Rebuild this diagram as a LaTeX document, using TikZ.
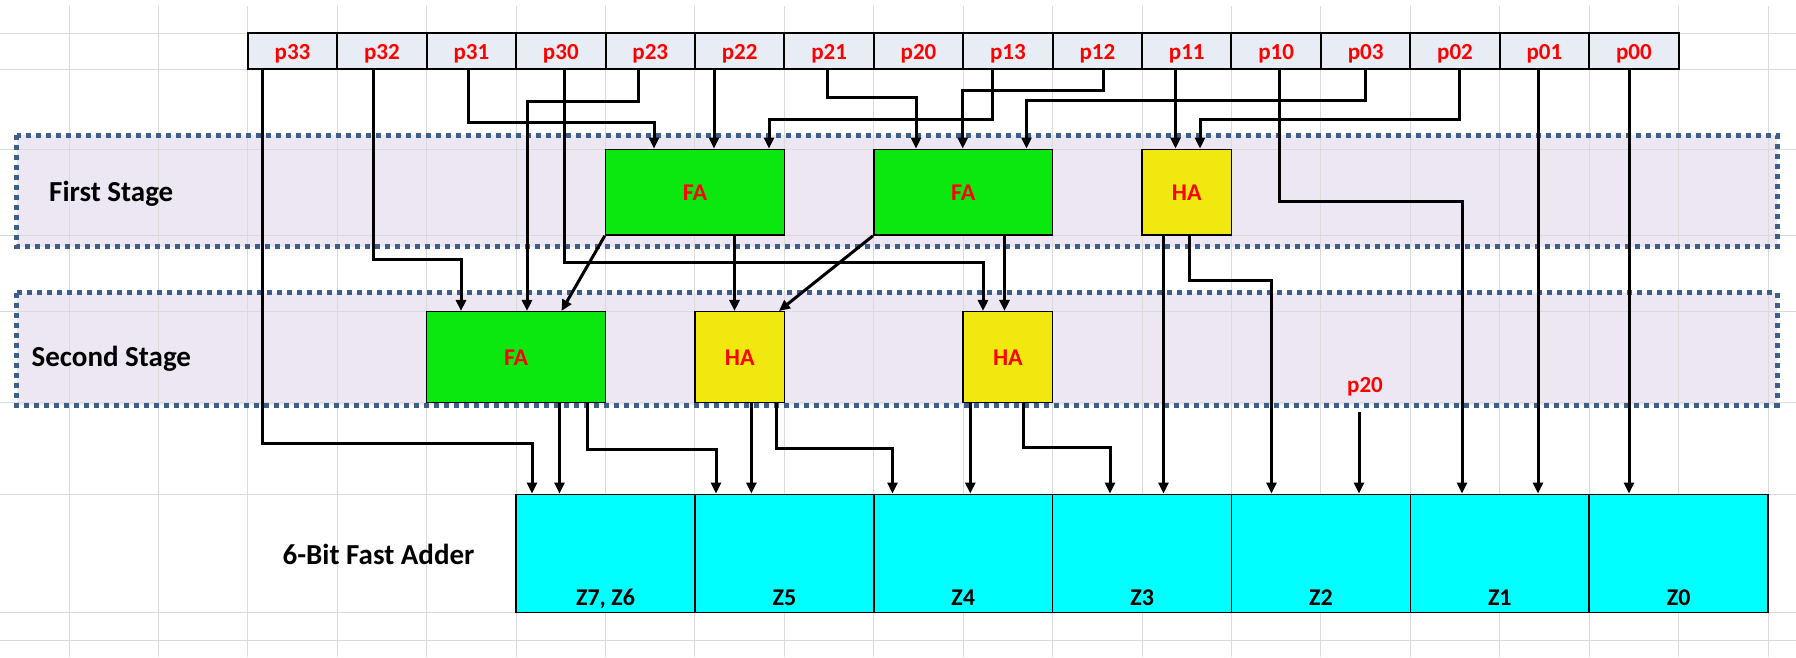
\documentclass[tikz,border=0pt]{standalone}
\usepackage{fontspec}
\setmainfont{Carlito}
\usetikzlibrary{arrows.meta}
\definecolor{gridgray}{HTML}{DADADA}
\definecolor{cellfill}{HTML}{E8ECF4}
\definecolor{stagefill}{HTML}{EDE7F3}
\definecolor{dotcol}{HTML}{3E5F8C}
\definecolor{fagreen}{HTML}{0BE80F}
\definecolor{hayellow}{HTML}{F0E80F}
\definecolor{adcyan}{HTML}{00FFFF}
\definecolor{labred}{HTML}{FF0000}
\begin{document}
\begin{tikzpicture}[x=1pt,y=-1pt,
  gridline/.style={draw=gridgray, line width=1pt},
  stagebox/.style={draw=dotcol, line width=5pt, dash pattern=on 5pt off 5pt},
  wa/.style={line width=3pt, -{Triangle[length=11pt,width=10pt]}},
  pcell/.style={draw=black, line width=2pt, fill=cellfill, minimum width=89.42pt, minimum height=36pt, inner sep=0pt, text height=16.8pt, text depth=0pt, text=labred, font=\fontsize{23}{26}\selectfont\bfseries},
  blk/.style={draw=black, line width=1.5pt, inner sep=0pt, text height=17pt, text depth=0pt, text=labred, font=\fontsize{24}{28}\selectfont\bfseries},
  fabox/.style={blk, fill=fagreen, minimum width=178.8pt},
  habox/.style={blk, fill=hayellow, minimum width=89.4pt},
  row1/.style={minimum height=85.7pt},
  row2/.style={minimum height=91pt},
  zcell/.style={draw=black, line width=1.5pt, fill=adcyan, minimum width=178.84pt, minimum height=118.4pt, inner sep=0pt},
  zlab/.style={inner sep=0pt, anchor=base, font=\fontsize{24}{28}\selectfont\bfseries},
  stagelab/.style={inner sep=0pt, anchor=base west, font=\fontsize{29}{34}\selectfont\bfseries},
  plabel/.style={inner sep=0pt, text=labred, font=\fontsize{23}{26}\selectfont\bfseries}]
\useasboundingbox (0,0) rectangle (1796,657);
\fill[white] (0,0) rectangle (1796,657);
% stage fills
\fill[stagefill] (16.5,135) rectangle (1777,246.7);
\fill[stagefill] (16.5,292.7) rectangle (1777,405);
% spreadsheet grid
\foreach \k in {0,...,19} \draw[gridline] ({69+89.42*\k},6) -- ({69+89.42*\k},657);
\foreach \yy in {33.3,69.3,149.3,235,311.7,402.7,494.3,612.7,640.7} \draw[gridline] (0,\yy) -- (1796,\yy);
% stage borders
\draw[stagebox] (16.5,135) rectangle (1777,246.7);
\draw[stagebox] (16.5,292.7) rectangle (1777,405);
\node[stagelab] (lab1) at (49,201) {First Stage};
\node[stagelab] (lab2) at (31.4,366.5) {Second Stage};
\node[stagelab] (lab3) at (282.4,564) {6-Bit Fast Adder};
% partial products row
\foreach \n [count=\i from 0] in {33,32,31,30,23,22,21,20,13,12,11,10,03,02,01,00}
  \node[pcell] (p\n) at ({292.55+89.42*\i},51.3) {p\n};
% first stage
\node[fabox,row1] (fa1) at (694.95,192.15) {FA};
\node[fabox,row1] (fa2) at (963.2,192.15) {FA};
\node[habox,row1] (ha1) at (1186.75,192.15) {HA};
% second stage
\node[fabox,row2] (fa3) at (516.1,357.2) {FA};
\node[habox,row2] (ha2) at (739.7,357.2) {HA};
\node[habox,row2] (ha3) at (1007.9,357.2) {HA};
% fast adder cells
\node[zcell] (z76) at (605.5,553.5) {};
\node[zcell] (z5) at (784.4,553.5) {};
\node[zcell] (z4) at (963.2,553.5) {};
\node[zcell] (z3) at (1142.1,553.5) {};
\node[zcell] (z2) at (1320.9,553.5) {};
\node[zcell] (z1) at (1499.8,553.5) {};
\node[zcell] (z0) at (1678.6,553.5) {};
\foreach \z/\t in {z76/{Z7, Z6},z5/Z5,z4/Z4,z3/Z3,z2/Z2,z1/Z1,z0/Z0}
  \node[zlab] at ([yshift=8.2pt]\z.south) {\t};
% loose p20 input
\node[plabel] (p20b) at (1365,387) {p20};
\coordinate (p20s) at (1359,412);
% wires from partial products
\draw[wa] (262,0 |- p33.south) |- (532,443) -- (532,0 |- z76.north);
\draw[wa] (373,0 |- p32.south) |- (461,259) -- (461,0 |- fa3.north);
\draw[wa] (468,0 |- p31.south) |- (654,122) -- (654,0 |- fa1.north);
\draw[wa] (564,0 |- p30.south) |- (983,262.5) -- (983,0 |- ha3.north);
\draw[wa] (638.5,0 |- p23.south) |- (527,101) -- (527,0 |- fa3.north);
\draw[wa] (714,0 |- p22.south) -- (714,0 |- fa1.north);
\draw[wa] (827,0 |- p21.south) |- (916,97) -- (916,0 |- fa2.north);
\draw[wa] (992.5,0 |- p13.south) |- (769,119.5) -- (769,0 |- fa1.north);
\draw[wa] (1103.5,0 |- p12.south) |- (962.7,90) -- (962.7,0 |- fa2.north);
\draw[wa] (1175.5,0 |- p11.south) -- (1175.5,0 |- ha1.north);
\draw[wa] (1279,0 |- p10.south) |- (1462,201) -- (1462,0 |- z1.north);
\draw[wa] (1365,0 |- p03.south) |- (1026.5,100) -- (1026.5,0 |- fa2.north);
\draw[wa] (1459,0 |- p02.south) |- (1200,119) -- (1200,0 |- ha1.north);
\draw[wa] (1538,0 |- p01.south) -- (1538,0 |- z1.north);
\draw[wa] (1629,0 |- p00.south) -- (1629,0 |- z0.north);
% first stage outputs
\draw[wa] (fa1.south west) -- (561.5,0 |- fa3.north);
\draw[wa] (734.5,0 |- fa1.south) -- (734.5,0 |- ha2.north);
\draw[wa] (fa2.south west) -- (779,0 |- ha2.north);
\draw[wa] (1004.5,0 |- fa2.south) -- (1004.5,0 |- ha3.north);
\draw[wa] (1163.5,0 |- ha1.south) -- (1163.5,0 |- z3.north);
\draw[wa] (1189,0 |- ha1.south) |- (1271.5,280) -- (1271.5,0 |- z2.north);
% second stage outputs
\draw[wa] (559.5,0 |- fa3.south) -- (559.5,0 |- z76.north);
\draw[wa] (587.4,0 |- fa3.south) |- (716,449) -- (716,0 |- z5.north);
\draw[wa] (751.4,0 |- ha2.south) -- (751.4,0 |- z5.north);
\draw[wa] (776,0 |- ha2.south) |- (892.5,448) -- (892.5,0 |- z4.north);
\draw[wa] (970.3,0 |- ha3.south) -- (970.3,0 |- z4.north);
\draw[wa] (1023.2,0 |- ha3.south) |- (1110,447) -- (1110,0 |- z3.north);
\draw[wa] (p20s) -- (1359,0 |- z2.north);
\end{tikzpicture}
\end{document}
